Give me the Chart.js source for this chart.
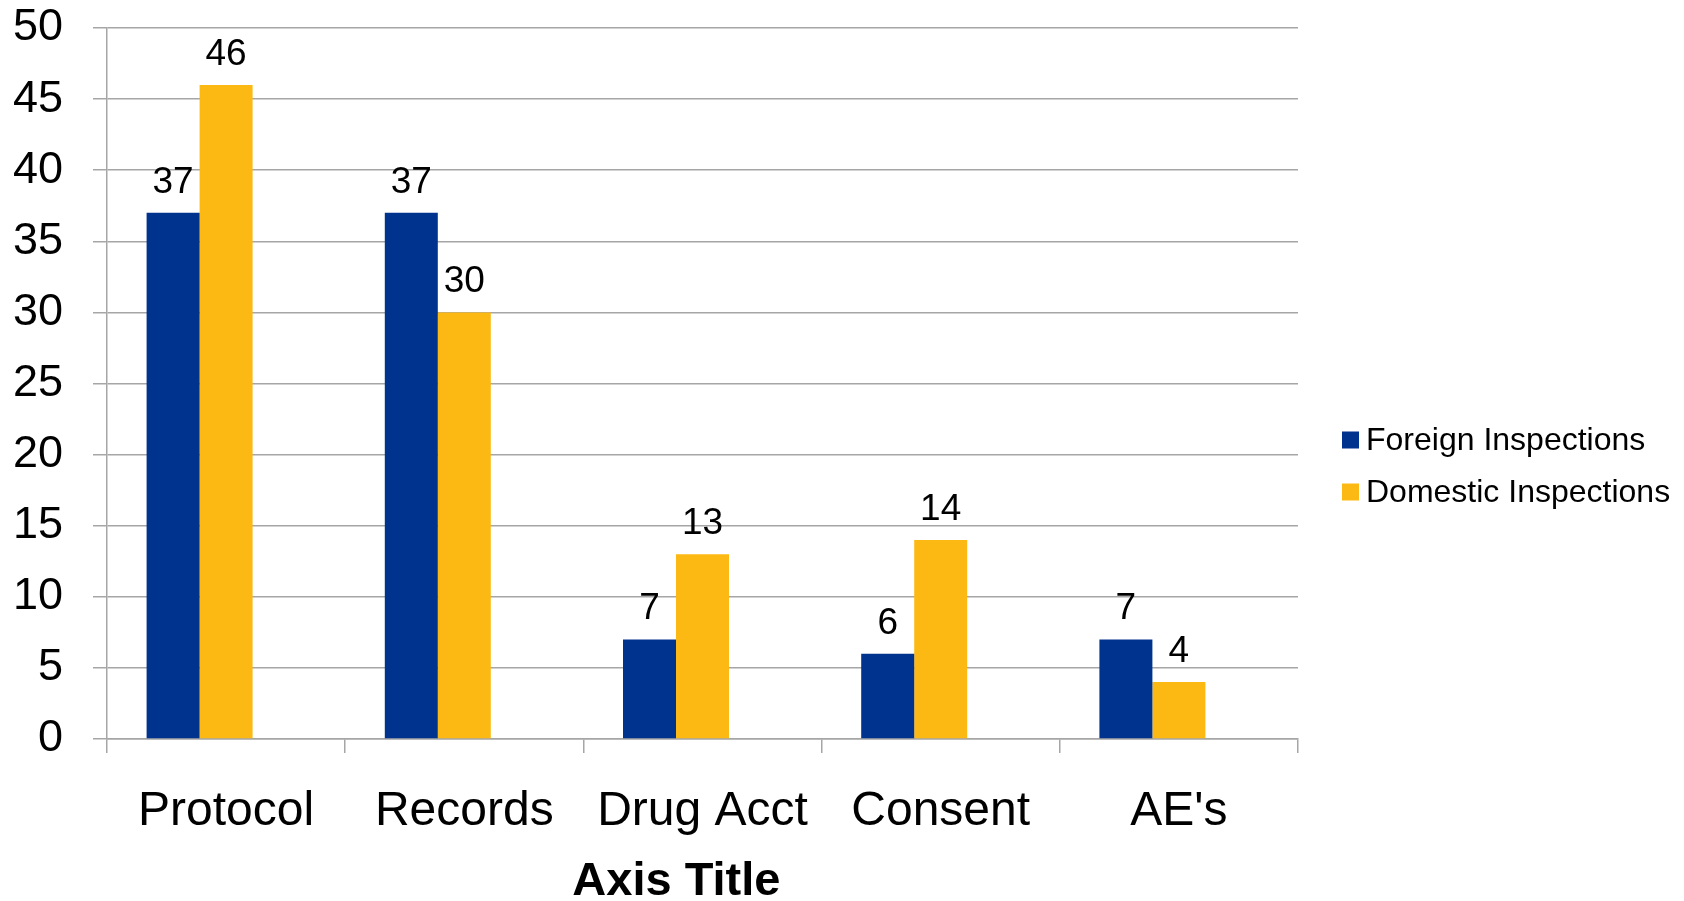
<!DOCTYPE html>
<html>
<head>
<meta charset="utf-8">
<script src="https://cdn.jsdelivr.net/npm/chart.js@4.4.0/dist/chart.umd.min.js"></script>
<style>
  html, body { margin: 0; padding: 0; background: #ffffff; }
  #wrap { width: 1684px; height: 901px; position: relative; }
</style>
</head>
<body>
<div id="wrap"><canvas id="c" width="1684" height="901"></canvas></div>
<script>
const categories = ["Protocol", "Records", "Drug Acct", "Consent", "AE's"];
const foreignValues = [37, 37, 7, 6, 7];
const domesticValues = [46, 30, 13, 14, 4];
const emptySeries = [null, null, null, null, null];
const seriesNames = ["Foreign Inspections", "Domestic Inspections"];
const yTicks = [0, 5, 10, 15, 20, 25, 30, 35, 40, 45, 50];

const FONT = "'Liberation Sans', Arial, sans-serif";
const BLUE = "#00338D";
const YELLOW = "#FDB913";
const GRID = "#A6A6A6";

const valueLabels = {
  id: 'valueLabels',
  afterDatasetsDraw(chart) {
    const ctx = chart.ctx;
    ctx.save();
    ctx.font = "37px " + FONT;
    ctx.fillStyle = "#000";
    ctx.textAlign = "center";
    ctx.textBaseline = "alphabetic";
    [0, 1].forEach(di => {
      const meta = chart.getDatasetMeta(di);
      meta.data.forEach((el, i) => {
        const v = chart.data.datasets[di].data[i];
        if (v === null) return;
        ctx.fillText(String(v), el.x, el.y - 20);
      });
    });
    ctx.restore();
  }
};

const sideLegend = {
  id: 'sideLegend',
  afterDraw(chart) {
    const ctx = chart.ctx;
    ctx.save();
    ctx.font = "32px " + FONT;
    ctx.textBaseline = "middle";
    ctx.textAlign = "left";
    const x0 = chart.chartArea.right + 44;
    const rows = [440, 492];
    [0, 1].forEach((di, k) => {
      const ds = chart.data.datasets[di];
      ctx.fillStyle = ds.backgroundColor;
      ctx.fillRect(x0, rows[k] - 8.5, 17, 17);
      ctx.fillStyle = "#000";
      ctx.fillText(ds.label, x0 + 24, rows[k] + 1);
    });
    ctx.restore();
  }
};

new Chart(document.getElementById('c'), {
  type: 'bar',
  data: {
    labels: categories,
    datasets: [
      { label: seriesNames[0], data: foreignValues, backgroundColor: BLUE },
      { label: seriesNames[1], data: domesticValues, backgroundColor: YELLOW },
      { label: '', data: emptySeries, backgroundColor: 'rgba(0,0,0,0)' }
    ]
  },
  options: {
    responsive: false,
    animation: false,
    devicePixelRatio: 1,
    layout: { padding: { top: 28, right: 386, bottom: 0, left: 0 } },
    datasets: { bar: { barPercentage: 1, categoryPercentage: 0.6675 } },
    plugins: {
      legend: { display: false },
      tooltip: { enabled: false }
    },
    scales: {
      x: {
        grid: { display: true, offset: true, drawOnChartArea: false, tickLength: 14, color: GRID, lineWidth: 1.5 },
        border: { display: true, color: GRID, width: 1.5 },
        ticks: { color: "#000", font: { family: FONT, size: 48 }, padding: 30, maxRotation: 0 },
        title: { display: true, text: 'Axis Title    ', color: "#000", font: { family: FONT, size: 47, weight: 'bold', lineHeight: 0.8 }, padding: { top: 0, bottom: 0 } },
        afterFit(scale) { scale.height = 162; scale.paddingLeft = 0; scale.paddingRight = 0; }
      },
      y: {
        min: 0, max: 50,
        afterBuildTicks(scale) { scale.ticks = yTicks.map(v => ({ value: v })); },
        grid: { color: GRID, lineWidth: 1.5, tickLength: 14 },
        border: { display: true, color: GRID, width: 1.5 },
        ticks: { color: "#000", font: { family: FONT, size: 45 }, padding: 30 },
        afterFit(scale) { scale.width = 107; scale.paddingTop = 0; scale.paddingBottom = 0; }
      }
    }
  },
  plugins: [valueLabels, sideLegend]
});
</script>
</body>
</html>
